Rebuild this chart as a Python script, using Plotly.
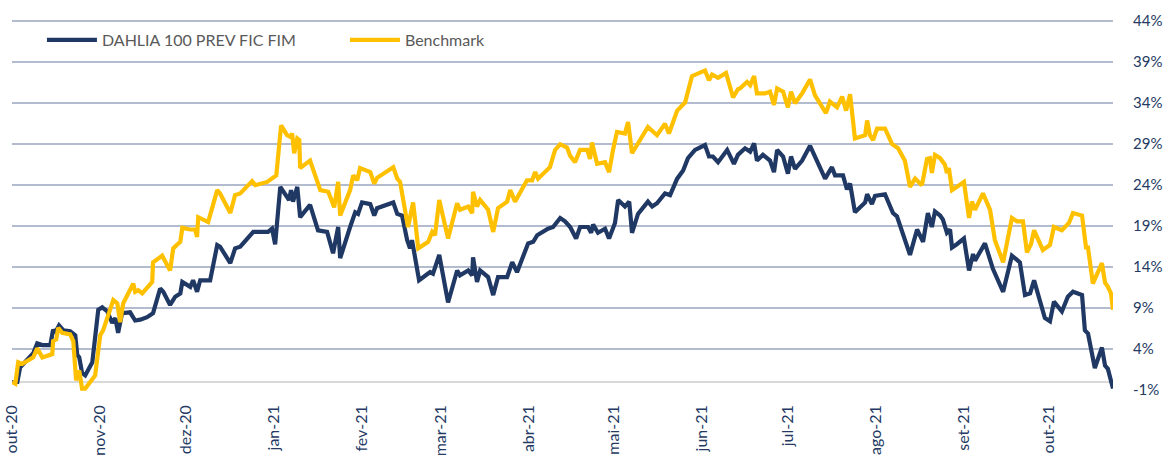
import pandas as pd
import plotly.graph_objects as go

# ---- data (days since 2020-10-01, cumulative return in %) ----
start_date = "2020-10-01"

dahlia_days = [0, 1.8, 2.8, 5.2, 7.4, 8.8, 10.6, 13.4, 14.4, 15.1, 16.5, 18, 20.4, 22.2, 22.9, 23.6,
               24.6, 25.7, 28.2, 30.3, 31.7, 33.5, 35.2, 36.3, 37.3, 38.7, 41.5, 43.3, 45.1, 47.5, 49.6,
               52.1, 53.2, 55.6, 57.4, 59.2, 59.9, 62.7, 63.7, 65.1, 66.2, 69.7, 72.2, 73.2, 76.8, 78.5,
               80.3, 84.9, 90.1, 91.5, 92.6, 94.4, 96.1, 97.5, 98.2, 98.9, 100.4, 101.4, 104.9, 107.7,
               110.9, 113, 114.8, 115.5, 119, 120.8, 121.8, 123.2, 126.1, 127.5, 128.5, 134.2, 135.6,
               137.3, 139.1, 140.1, 140.8, 143.3, 147.2, 148.2, 150.4, 153.5, 156.7, 157.7, 160.6, 162,
               162.3, 163.7, 164.8, 167.6, 169.4, 171.1, 174.3, 176.1, 177.8, 181.7, 183.5, 184.9, 188.7,
               190.5, 193, 194.7, 196.5, 198.6, 200, 202.8, 203.9, 204.6, 206.3, 208.8, 210.2, 212.3,
               213.4, 215.8, 217.3, 218.3, 220.4, 223.9, 225.4, 227.1, 229.9, 231.7, 234.2, 236.3, 238,
               240.5, 244, 245.4, 246.8, 248.6, 251.8, 254.2, 255.6, 258.1, 259.9, 261.3, 262.3, 264.4,
               266.9, 268.3, 269.4, 271.5, 273.2, 274.3, 275.7, 278.2, 281, 283.5, 286.3, 288.7, 289.8,
               292.6, 294, 295.1, 296.8, 300.4, 301.1, 302.8, 303.9, 307.4, 310.2, 311.6, 316.2, 318.7,
               320.8, 322.5, 323.9, 325, 326.8, 327.8, 329.2, 330.3, 331, 332.7, 335.2, 337, 338.4, 339.1,
               342.6, 345.4, 349, 352.1, 354.9, 356.7, 358.5, 359.9, 363.7, 365.5, 366.9, 369.7, 371.8,
               373.6, 376.8, 377.8, 378.9, 381.3, 383.8, 384.9, 385.9, 387.7]
dahlia_values = [0.0, 0.0, 1.8, 2.7, 3.5, 4.7, 4.5, 4.5, 6.4, 6.0, 6.9, 6.3, 6.2, 5.7, 3.3, 3.0,
                 1.1, 0.8, 2.4, 8.8, 9.1, 8.6, 7.2, 7.8, 6.0, 8.4, 8.5, 7.5, 7.6, 7.9, 8.4,
                 11.4, 11.0, 9.4, 10.4, 10.8, 12.2, 11.6, 12.4, 11.0, 12.4, 12.4, 16.7, 16.5, 14.5, 16.3,
                 16.5, 18.3, 18.3, 18.7, 16.8, 23.8, 23.0, 22.2, 23.4, 22.0, 23.8, 20.1, 21.6, 18.5,
                 18.3, 15.7, 18.9, 15.1, 18.9, 20.7, 20.5, 21.9, 21.7, 20.3, 21.2, 21.9, 20.5,
                 20.3, 17.3, 16.3, 17.3, 12.4, 13.4, 13.2, 15.5, 9.7, 13.6, 13.0, 13.6, 13.0,
                 15.2, 12.2, 13.6, 12.8, 10.6, 12.8, 12.8, 14.6, 13.4, 16.9, 17.1, 17.9, 18.7,
                 18.9, 20.0, 19.6, 18.9, 17.5, 18.9, 18.9, 18.2, 19.2, 18.2, 18.7, 17.5, 19.4,
                 22.2, 21.4, 22.0, 18.2, 20.5, 22.0, 21.4, 21.8, 23.0, 22.8, 24.8, 25.8, 27.3,
                 28.3, 28.9, 27.5, 27.5, 26.8, 28.3, 26.6, 27.7, 28.5, 28.1, 29.1, 27.0, 27.7,
                 27.0, 25.6, 28.3, 27.5, 25.4, 27.5, 26.0, 27.0, 28.8, 27.0, 24.8, 26.2, 25.2,
                 25.2, 23.5, 24.2, 20.7, 21.9, 22.9, 21.7, 22.7, 22.9, 20.6, 20.2, 15.5, 18.6,
                 17.1, 20.6, 18.9, 20.8, 20.3, 19.8, 18.2, 18.6, 16.4, 16.8, 17.5, 13.6, 15.6, 14.8,
                 16.9, 13.8, 11.0, 15.4, 14.6, 10.6, 10.8, 12.4, 7.8, 7.4, 9.8, 8.6, 10.4,
                 11.0, 10.6, 6.3, 5.9, 1.7, 4.2, 2.0, 1.6, -0.8]

bench_days = [0, 1.1, 2.1, 3.5, 7.4, 8.8, 10.6, 14.1, 14.4, 15.5, 16.2, 17.6, 20.4, 21.5, 22.5, 23.6,
              24.6, 25.7, 29.2, 31, 32, 35.6, 37, 38, 39.1, 42.6, 43.3, 44.4, 45.8, 49.3, 49.6, 52.8,
              55.6, 56.7, 59.2, 59.9, 62.7, 64.4, 65.1, 65.5, 69, 72.2, 73.2, 76.8, 78.5, 80.3, 84.5,
              85.6, 89.8, 91.9, 93, 94.7, 96.8, 97.9, 98.6, 99.3, 100.4, 101.1, 101.4, 104.9, 108.5,
              111.3, 113.4, 114.8, 115.5, 119, 120.1, 121.5, 122.5, 126.1, 127.5, 128.5, 134.2, 135.6,
              136.6, 139.4, 141.2, 143, 146.5, 147.9, 148.9, 150.4, 153.5, 156.7, 157.7, 160.6, 162,
              162.3, 163.7, 164.8, 167.6, 169.4, 171.1, 174.3, 175.4, 177.1, 181.3, 183.1, 184.2, 185.2,
              189.4, 191.2, 193, 195.4, 196.5, 198.2, 200, 202.5, 203.5, 204.2, 206, 208.8, 210.2,
              211.6, 213, 215.8, 216.9, 218.3, 221.1, 223.9, 227.1, 229.9, 231.3, 232.7, 234.2, 237,
              239.4, 244, 245.4, 246.5, 248.6, 251.4, 253.9, 255.6, 256.3, 258.8, 259.9, 261.3, 262.3,
              265.1, 266.9, 268.3, 269.4, 271.5, 273.2, 274.3, 275.7, 278.2, 281, 282.7, 284.5, 286.6,
              288, 290.5, 292.3, 293.7, 295.1, 296.8, 300.4, 301.1, 302.1, 303.2, 304.6, 307.4, 309.9,
              312, 314.4, 316.2, 318, 320.4, 322.2, 323.2, 323.9, 325, 326.8, 328.5, 329.2, 329.9,
              331, 332.7, 335.2, 337, 338, 339.1, 341.9, 344.4, 346.1, 349, 352.1, 353.9, 356, 357.4,
              358.8, 359.9, 363, 365.5, 366.9, 369.7, 371.5, 372.2, 373.6, 376.8, 378.2, 378.9, 380.6,
              383.8, 384.9, 385.9, 387, 387.7]
bench_values = [0.0, -0.2, 2.4, 2.2, 3.0, 4.1, 3.0, 3.4, 5.0, 5.2, 6.6, 6.0, 5.8, 5.0, 0.2, 1.4,
                -0.8, -0.8, 0.8, 5.7, 6.3, 10.0, 9.6, 7.3, 9.6, 12.0, 11.0, 11.2, 10.8, 12.2, 14.6, 15.4,
                13.6, 16.3, 17.1, 18.8, 18.6, 18.6, 17.7, 20.1, 19.5, 23.4, 23.0, 20.6, 22.8, 23.0, 24.5,
                24.0, 24.4, 25.0, 25.2, 31.3, 30.1, 29.9, 30.3, 27.9, 29.7, 29.5, 26.1, 27.0, 23.4,
                23.2, 21.3, 24.4, 20.3, 23.4, 25.2, 24.6, 26.1, 25.6, 24.2, 24.9, 26.2, 24.8,
                24.4, 18.9, 21.9, 16.3, 17.1, 18.3, 17.9, 22.2, 17.5, 21.8, 21.0, 21.4, 20.6,
                23.2, 21.4, 22.2, 21.0, 18.3, 21.2, 22.0, 23.4, 22.0, 24.6, 24.6, 25.6, 24.8,
                26.2, 28.3, 29.0, 28.6, 27.6, 26.8, 28.3, 28.3, 27.2, 29.2, 26.6, 26.8, 25.6,
                28.3, 30.5, 30.3, 31.7, 27.9, 29.5, 31.1, 30.1, 31.5, 30.3, 31.7, 33.1, 34.1,
                37.3, 38.0, 36.8, 37.5, 37.1, 37.7, 34.7, 35.7, 35.8, 36.6, 36.2, 37.3, 35.2,
                35.2, 35.4, 33.8, 35.8, 35.4, 33.5, 35.4, 34.0, 35.2, 36.9, 35.0, 34.0, 32.8,
                34.2, 33.5, 34.8, 33.1, 35.1, 29.7, 30.1, 31.9, 30.1, 29.5, 30.9, 30.9, 29.0,
                28.5, 27.0, 23.8, 24.8, 24.0, 27.2, 27.3, 25.5, 27.7, 27.3, 26.5, 25.5, 26.1,
                23.4, 23.8, 24.4, 20.0, 22.0, 21.0, 23.0, 21.0, 17.3, 14.6, 20.0, 19.6, 19.6, 15.8,
                16.8, 18.5, 16.1, 16.7, 18.9, 18.5, 19.2, 19.4, 20.6, 20.3, 16.4, 16.4, 12.0,
                14.5, 12.1, 11.6, 10.8, 8.8]

tick_dates = ["2020-10-01", "2020-11-01", "2020-12-01", "2021-01-01", "2021-02-01", "2021-03-01",
              "2021-04-01", "2021-05-01", "2021-06-01", "2021-07-01", "2021-08-01", "2021-09-01",
              "2021-10-01"]
tick_labels = ["out-20", "nov-20", "dez-20", "jan-21", "fev-21", "mar-21", "abr-21", "mai-21",
               "jun-21", "jul-21", "ago-21", "set-21", "out-21"]
y_ticks = [-1, 4, 9, 14, 19, 24, 29, 34, 39, 44]
y_labels = ["-1%", "4%", "9%", "14%", "19%", "24%", "29%", "34%", "39%", "44%"]

# ---- build ----
t0 = pd.Timestamp(start_date)
dahlia_x = t0 + pd.to_timedelta(dahlia_days, unit="D")
bench_x = t0 + pd.to_timedelta(bench_days, unit="D")

NAVY = "#203864"
GOLD = "#FFC000"
GRID = "#b3bccf"
FONT = "Lato"
TICK = "#243a63"

fig = go.Figure()
fig.add_trace(go.Scatter(x=dahlia_x, y=dahlia_values, mode="lines", name="DAHLIA 100 PREV FIC FIM",
                         line=dict(color=NAVY, width=4.2)))
fig.add_trace(go.Scatter(x=bench_x, y=bench_values, mode="lines", name="Benchmark",
                         line=dict(color=GOLD, width=4.2)))

end = max(dahlia_x.max(), bench_x.max())
fig.update_layout(
    template="none",
    width=1163, height=455,
    margin=dict(l=12, r=50, t=20, b=64, autoexpand=False),
    paper_bgcolor="white", plot_bgcolor="white",
    font=dict(family=FONT, size=16, color=TICK),
    showlegend=True,
    legend=dict(orientation="h", x=0.0272, y=0.946, xanchor="left", yanchor="middle",
                font=dict(family=FONT, size=16, color="#595959"),
                entrywidth=238, entrywidthmode="pixels", bgcolor="rgba(0,0,0,0)",
                itemwidth=50),
    xaxis=dict(type="date", range=[t0 - pd.Timedelta(hours=2), end], tickmode="array",
               tickvals=tick_dates, ticktext=tick_labels, tickangle=-90, showgrid=False,
               zeroline=False, showline=False, ticks="", automargin=False,
               tickfont=dict(family=FONT, size=16, color=TICK), ticklabelstandoff=10),
    yaxis=dict(range=[-1.1, 44.15], side="right", tickmode="array", tickvals=y_ticks,
               ticktext=y_labels, showgrid=True, gridcolor=GRID, gridwidth=2,
               zeroline=True, zerolinecolor="#d9d9d9", zerolinewidth=2,
               showline=False, ticks="", ticklabelstandoff=19, automargin=False,
               tickfont=dict(family=FONT, size=15, color=TICK)),
)

fig.write_html("out.html", config={"displayModeBar": False},
               post_script="document.body.style.margin='0';")
